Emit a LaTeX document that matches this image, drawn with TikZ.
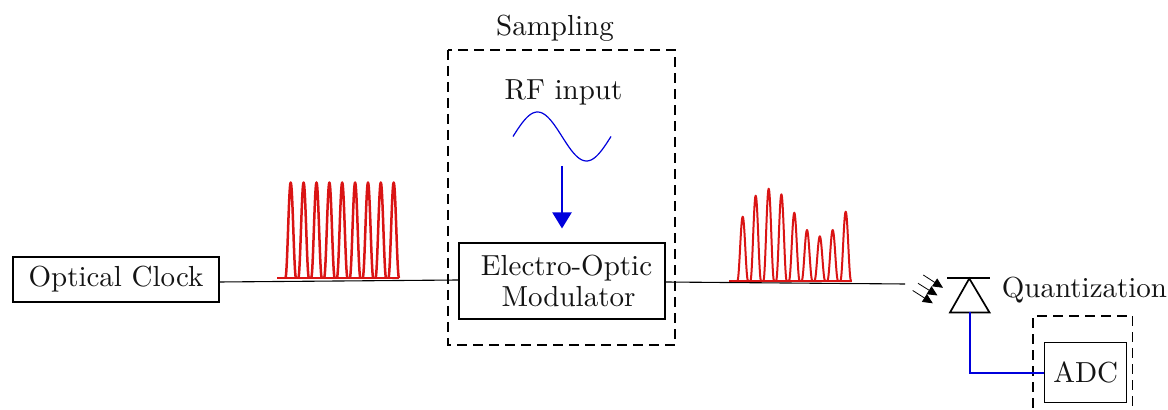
\documentclass[tikz,border=0pt]{standalone}
\usepackage{graphicx}
\usetikzlibrary{arrows.meta}
\definecolor{pulsered}{RGB}{218,20,20}
\definecolor{wireblue}{RGB}{0,0,220}
\definecolor{inkk}{RGB}{20,20,20}
\newcommand{\tx}[1]{\scalebox{1.45}{\fontsize{10}{12}\selectfont #1}}
\tikzset{
  lbl/.style={inner sep=0pt,text=inkk,align=center},
  thinbox/.style={draw=black,line width=0.7pt,inner sep=0pt,text=inkk,align=center},
  thickbox/.style={thinbox,line width=1.2pt},
  dashbox/.style={draw=black,line width=0.55pt,dash pattern=on 5pt off 3pt},
  fibre/.style={draw=black,line width=0.55pt},
  wire/.style={draw=wireblue,line width=1pt},
  pulse/.style={draw=pulsered,line width=1.25pt,line join=round},
  pulsethin/.style={draw=pulsered,line width=1pt,line join=round},
  light/.style={draw=black,line width=0.4pt,-{Triangle[length=5pt,width=4.6pt]}},
  diode/.style={draw=black,line width=0.85pt,line join=miter}
}
\newcommand{\pulseat}[4]{% style, centre, top, base
  \draw[#1] plot[domain=#2-5.3:#2+5.3,samples=25,smooth] (\x,{#4-(#4-#3)*cos(16.98*(\x-#2))^2});
}
\begin{document}
\begin{tikzpicture}[x=0.5pt,y=-0.5pt]
\useasboundingbox (0,0) rectangle (1168,410);
% boxes
\node[thinbox,minimum width=103pt,minimum height=22.5pt] (clock) at (116,279.5) {\tx{Optical Clock}};
\node[thickbox,minimum width=103pt,minimum height=38pt] (eom) at (562,281) {};
\node[lbl] (eomtxt) at (566.5,281) {\tx{Electro-Optic}\\[2pt]\hspace*{2pt}\tx{Modulator}};
\node[thinbox,minimum width=41pt,minimum height=30pt] (adc) at (1085.7,372.25) {\tx{ADC}};
\draw[dashbox] (448,50) rectangle (675,345);
\draw[dashbox] (1033,408) -- (1033,316) -- (1132.7,316) -- (1132.7,408);
% labels
\node[lbl] (samp) at (555,28.5) {\tx{Sampling}};
\node[lbl] (rf) at (563.5,92.5) {\tx{RF input}};
\node[lbl] (quant) at (1084.5,290) {\tx{Quantization}};
% clock pulses
\draw[pulse] (277.3,278) -- (399.3,278);
\foreach \c in {290.7,303.6,316.5,329.4,342.2,355.1,368,380.8,393.7}{\pulseat{pulse}{\c}{182.5}{278}}
% modulated pulses
\draw[pulsethin] (729.3,280.8) -- (851.7,280.8);
\foreach \c/\t in {742.7/216.7,755.7/195.7,768.7/188.7,781.4/194.3,794.3/212.7,807/230,819.8/236.3,832.7/230,845.7/211.7}{\pulseat{pulsethin}{\c}{\t}{280.8}}
% fibres
\coordinate (clockout) at (219,282);
\coordinate (eomin) at (459,280);
\coordinate (eomout) at (665,282);
\coordinate (pdin) at (905,284);
\draw[fibre] (clockout) -- (eomin);
\draw[fibre] (eomout) -- (pdin);
% RF sine
\draw[draw=wireblue,line width=0.6pt] plot[domain=513:611,samples=60,smooth] (\x,{136.5-24.5*sin(3.67347*(\x-513))});
\coordinate (rfout) at (562,166);
\coordinate (eomtop) at (562,228.5);
\draw[wire,-{Triangle[length=8pt,width=9.5pt]}] (rfout) -- (eomtop);
% photodiode
\coordinate (apex) at (969.3,278.5);
\coordinate (pdbase) at (969.5,312.5);
\draw[diode] (947,278) -- (989.7,278);
\draw[diode] (apex) -- (989.5,312.5) -- (950,312.5) -- cycle;
% incoming light
\foreach \a/\b/\c/\d in {923.3/275/943/287.8,918/283.3/937.5/295.5,912.7/290.5/932.8/303.3}{\draw[light] (\a,\b) -- (\c,\d);}
% output wire
\draw[wire] (pdbase) |- ([yshift=-0.5pt]adc.west);
\end{tikzpicture}
\end{document}
